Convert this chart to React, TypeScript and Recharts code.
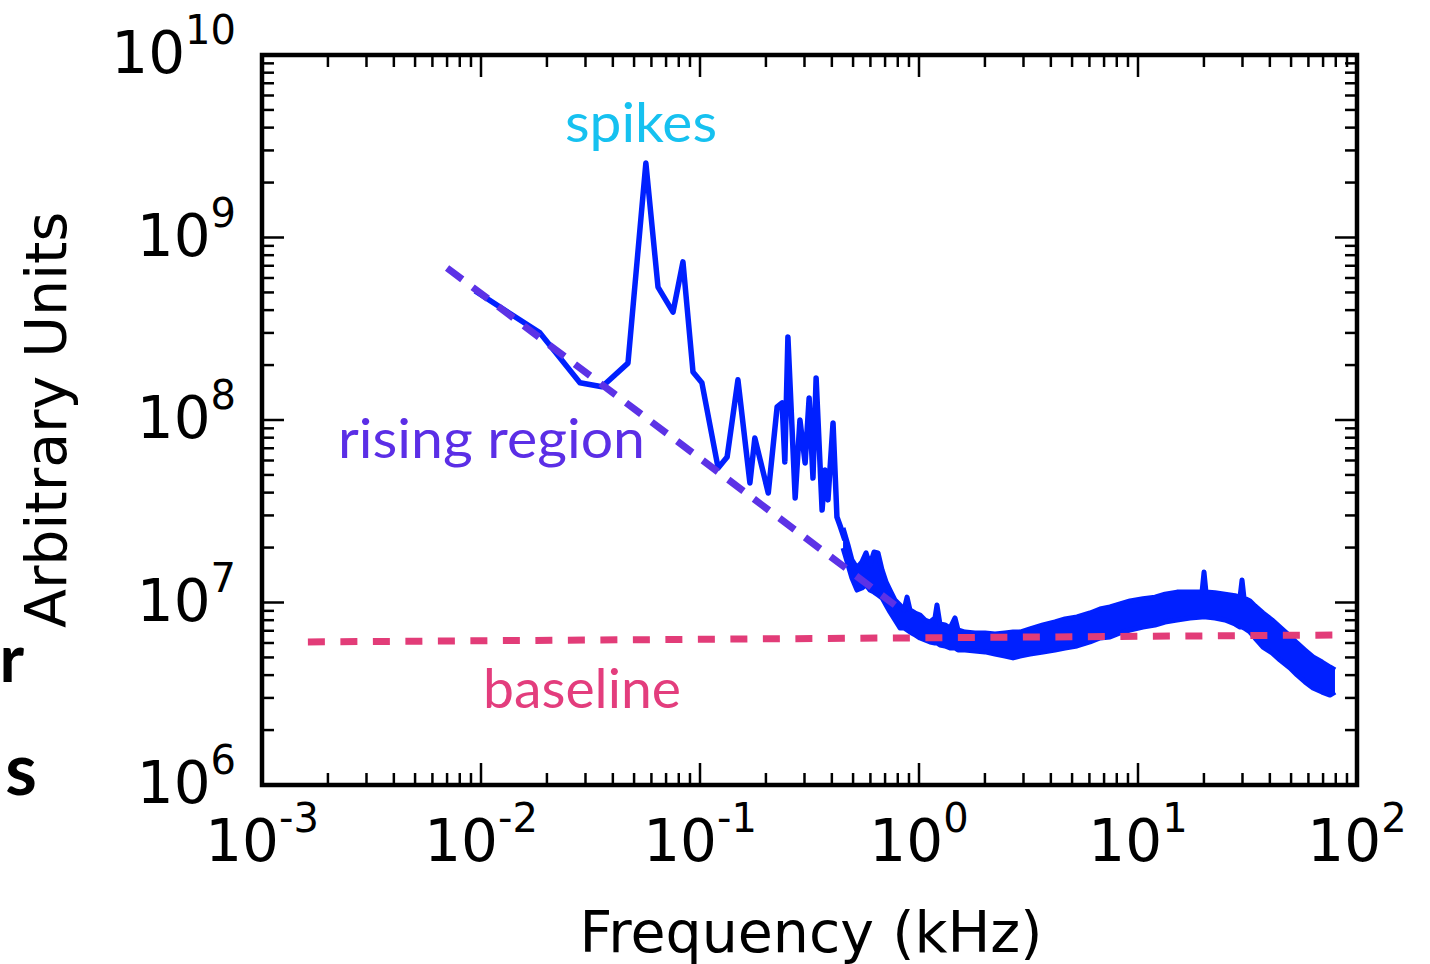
import React from 'react';
import { ComposedChart, Line, Area, XAxis, YAxis, ReferenceArea } from 'recharts';

// low-frequency part of the spectrum: frequency (kHz) / amplitude (arb. units)
const lowFreq = [
  0.0094, 0.0186, 0.0283, 0.0357, 0.0469, 0.0566, 0.0643, 0.0753, 0.0836, 0.0929,
  0.102, 0.121, 0.133, 0.149, 0.169, 0.178, 0.205, 0.225, 0.237, 0.244,
  0.252, 0.272, 0.286, 0.302, 0.315, 0.328, 0.339, 0.361, 0.372, 0.384,
  0.405, 0.422, 0.435, 0.459,
];
const lowAmp = [
  5.1e8, 3.0e8, 1.6e8, 1.52e8, 2.05e8, 2.56e9, 5.35e8, 3.9e8, 7.35e8, 1.83e8,
  1.6e8, 5.46e7, 6.27e7, 1.66e8, 4.52e7, 7.96e7, 3.98e7, 1.18e8, 1.24e8, 5.89e7,
  2.85e8, 3.74e7, 1.0e8, 5.81e7, 1.32e8, 4.81e7, 1.7e8, 3.21e7, 5.32e7, 3.65e7,
  9.63e7, 2.94e7, 2.66e7, 2.2e7,
];

// dense high-frequency part, drawn as a band between min and max
const bandFreq = [
  0.45, 0.474, 0.494, 0.521, 0.549, 0.573, 0.597, 0.623, 0.65, 0.678,
  0.707, 0.737, 0.777, 0.819, 0.854, 0.882, 0.91, 0.959, 1.011, 1.065,
  1.123, 1.183, 1.208, 1.247, 1.314, 1.386, 1.46, 1.507, 1.622, 1.802,
  2.002, 2.223, 2.47, 2.687, 2.892, 3.213, 3.683, 4.178, 4.642, 5.266,
  6.037, 6.707, 7.45, 8.277, 9.195, 10.54, 11.96, 13.28, 15.07, 17.28,
  19.6, 20.02, 20.44, 22.47, 24.96, 27.73, 29.23, 29.86, 30.48, 32.47,
  34.22, 37.22, 40.92, 44.51, 49.45, 53.21, 57.88, 62.97, 69.22, 75.28,
  79.33,
];
const bandMin = [
  1.99e7, 1.61e7, 1.36e7, 1.17e7, 1.2e7, 1.25e7, 1.17e7, 1.14e7, 1.1e7, 1.06e7,
  9.69e6, 8.87e6, 8.02e6, 7.25e6, 7.25e6, 7.07e6, 6.89e6, 6.64e6, 6.39e6, 6.23e6,
  6.08e6, 6.0e6, 6.0e6, 5.85e6, 5.78e6, 5.63e6, 5.63e6, 5.49e6, 5.49e6, 5.42e6,
  5.36e6, 5.22e6, 5.09e6, 4.97e6, 5.09e6, 5.22e6, 5.36e6, 5.49e6, 5.63e6, 5.78e6,
  6.08e6, 6.39e6, 6.47e6, 6.81e6, 7.07e6, 7.34e6, 7.53e6, 7.82e6, 8.02e6, 8.23e6,
  8.33e6, 8.33e6, 8.33e6, 8.23e6, 8.02e6, 7.62e6, 7.34e6, 7.34e6, 7.25e6, 6.89e6,
  6.39e6, 5.7e6, 5.29e6, 4.84e6, 4.38e6, 4.01e6, 3.67e6, 3.4e6, 3.23e6, 3.11e6,
  3.23e6,
];
const bandMax = [
  2.56e7, 2.07e7, 1.71e7, 1.55e7, 1.67e7, 1.87e7, 1.61e7, 1.89e7, 1.87e7, 1.51e7,
  1.3e7, 1.17e7, 1.03e7, 9.69e6, 9.1e6, 1.07e7, 9.1e6, 8.76e6, 8.54e6, 8.02e6,
  7.82e6, 8.23e6, 9.69e6, 7.62e6, 7.53e6, 7.25e6, 8.23e6, 7.07e6, 6.89e6, 6.81e6,
  6.81e6, 6.72e6, 6.81e6, 6.89e6, 6.89e6, 7.16e6, 7.53e6, 7.82e6, 8.12e6, 8.33e6,
  8.76e6, 9.21e6, 9.45e6, 9.81e6, 1.02e7, 1.05e7, 1.07e7, 1.11e7, 1.14e7, 1.14e7,
  1.14e7, 1.47e7, 1.14e7, 1.13e7, 1.11e7, 1.09e7, 1.07e7, 1.33e7, 1.06e7, 1.02e7,
  9.57e6, 8.76e6, 8.02e6, 7.34e6, 6.55e6, 6.0e6, 5.49e6, 5.03e6, 4.72e6, 4.43e6,
  4.27e6,
];

// hand-drawn guide lines
const risingFreq = [0.007, 0.776];
const risingAmp = [6.81e8, 9.68e6];
const baselineFreq = [0.00162, 86.3];
const baselineAmp = [6.08e6, 6.64e6];

const xMajor = [0.001, 0.01, 0.1, 1, 10, 100];
const yMajor = [1e6, 1e7, 1e8, 1e9, 1e10];
const minorSteps = [2, 3, 4, 5, 6, 7, 8, 9];

const withMinor = (majors: number[]) =>
  majors.flatMap((m, i) => (i < majors.length - 1 ? [m, ...minorSteps.map((s) => m * s)] : [m]));
const xTicks = withMinor(xMajor);
const yTicks = withMinor(yMajor);

const lowData = lowFreq.map((f, i) => ({ f, v: lowAmp[i] }));
const bandData = bandFreq.map((f, i) => ({ f, range: [bandMin[i], bandMax[i]] }));
const risingData = risingFreq.map((f, i) => ({ f, v: risingAmp[i] }));
const baselineData = baselineFreq.map((f, i) => ({ f, v: baselineAmp[i] }));

const PLOT = { left: 262, right: 1357, top: 55, bottom: 785 };
const FONT = 'DejaVu Sans';
const BLUE = '#0020ff';

const isMajor = (v: number) => Math.abs(Math.log10(v) - Math.round(Math.log10(v))) < 1e-6;

const Pow = ({ x, y, exp, anchor }: { x: number; y: number; exp: number; anchor: string }) => (
  <text x={x} y={y} textAnchor={anchor} fontFamily={FONT} fontSize={58} fill="#000">
    <tspan>10</tspan>
    <tspan dy={-29} fontSize={40}>{String(exp)}</tspan>
  </text>
);

const XTick = (props: any) => {
  const { x, y, payload } = props;
  const major = isMajor(payload.value);
  const len = major ? 22 : 12;
  return (
    <g>
      <line x1={x} x2={x} y1={y} y2={y - len} stroke="#000" strokeWidth={2.5} />
      <line x1={x} x2={x} y1={PLOT.top} y2={PLOT.top + len} stroke="#000" strokeWidth={2.5} />
      {major && <Pow x={x} y={y + 76} exp={Math.round(Math.log10(payload.value))} anchor="middle" />}
    </g>
  );
};

const YTick = (props: any) => {
  const { x, y, payload } = props;
  const major = isMajor(payload.value);
  const len = major ? 22 : 12;
  return (
    <g>
      <line x1={x} x2={x + len} y1={y} y2={y} stroke="#000" strokeWidth={2.5} />
      <line x1={PLOT.right} x2={PLOT.right - len} y1={y} y2={y} stroke="#000" strokeWidth={2.5} />
      {major && <Pow x={x - 26} y={y + 18} exp={Math.round(Math.log10(payload.value))} anchor="end" />}
    </g>
  );
};

export default function App() {
  return (
    <div style={{ position: 'absolute', left: 0, top: 0, width: 1430, height: 964, background: '#fff' }}>
      <ComposedChart
        width={1430}
        height={964}
        margin={{ top: PLOT.top, right: 1430 - PLOT.right, bottom: 964 - PLOT.bottom - 1, left: PLOT.left - 1 }}
      >
        <XAxis
          xAxisId="b"
          dataKey="f"
          type="number"
          scale="log"
          domain={[0.001, 100]}
          allowDataOverflow
          ticks={xTicks}
          interval={0}
          height={1}
          tickSize={0}
          tickMargin={0}
          axisLine={false}
          tickLine={false}
          tick={<XTick />}
        />
        <YAxis
          yAxisId="l"
          type="number"
          scale="log"
          domain={[1e6, 1e10]}
          allowDataOverflow
          ticks={yTicks}
          interval={0}
          width={1}
          tickSize={0}
          tickMargin={0}
          axisLine={false}
          tickLine={false}
          tick={<YTick />}
        />
        <Area
          xAxisId="b"
          yAxisId="l"
          data={bandData}
          dataKey="range"
          type="linear"
          stroke={BLUE}
          strokeWidth={5}
          strokeLinejoin="round"
          fill={BLUE}
          fillOpacity={1}
          isAnimationActive={false}
        />
        <Line
          xAxisId="b"
          yAxisId="l"
          data={lowData}
          dataKey="v"
          type="linear"
          stroke={BLUE}
          strokeWidth={5.5}
          strokeLinejoin="round"
          dot={false}
          isAnimationActive={false}
        />
        <Line
          xAxisId="b"
          yAxisId="l"
          data={risingData}
          dataKey="v"
          type="linear"
          stroke="#5c32e6"
          strokeWidth={7}
          strokeDasharray="19 13"
          dot={false}
          isAnimationActive={false}
        />
        <Line
          xAxisId="b"
          yAxisId="l"
          data={baselineData}
          dataKey="v"
          type="linear"
          stroke="#e23c78"
          strokeWidth={7}
          strokeDasharray="17 15.5"
          dot={false}
          isAnimationActive={false}
        />
        <ReferenceArea
          xAxisId="b"
          yAxisId="l"
          x1={0.001}
          x2={100}
          y1={1e6}
          y2={1e10}
          fill="none"
          fillOpacity={0}
          stroke="#000"
          strokeWidth={4.5}
          ifOverflow="visible"
        />
      </ComposedChart>
      <svg width={1430} height={964} style={{ position: 'absolute', left: 0, top: 0, pointerEvents: 'none' }}>
        <text x={811} y={952} textAnchor="middle" fontFamily={FONT} fontSize={57} fill="#000">
          Frequency (kHz)
        </text>
        <text transform="translate(66,420) rotate(-90)" textAnchor="middle" fontFamily={FONT} fontSize={57} fill="#000">
          Arbitrary Units
        </text>
        <text x={565} y={142} fontFamily="Lato" fontSize={54} fill="#16c1f0" textLength={152} lengthAdjust="spacingAndGlyphs">
          spikes
        </text>
        <text x={338} y={458} fontFamily="Lato" fontSize={54} fill="#5b2ee6" textLength={307} lengthAdjust="spacingAndGlyphs">
          rising region
        </text>
        <text x={483} y={708} fontFamily="Lato" fontSize={54} fill="#e33d7d" textLength={198} lengthAdjust="spacingAndGlyphs">
          baseline
        </text>
        <text x={24} y={682} textAnchor="end" fontFamily="Lato" fontWeight="bold" fontSize={66} fill="#000">
          r
        </text>
        <text x={37} y={795} textAnchor="end" fontFamily="Lato" fontWeight="bold" fontSize={72} fill="#000">
          s
        </text>
      </svg>
    </div>
  );
}
